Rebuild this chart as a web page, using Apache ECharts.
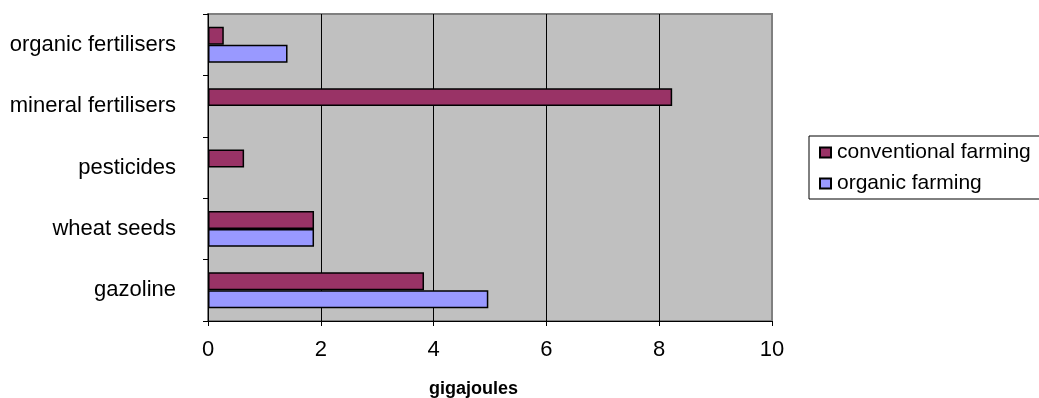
<!DOCTYPE html>
<html>
<head>
<meta charset="utf-8">
<script src="https://cdn.jsdelivr.net/npm/echarts@6/dist/echarts.min.js"></script>
<style>
html,body{margin:0;padding:0;background:#fff;}
#chart{width:1039px;height:398px;}
</style>
</head>
<body>
<div id="chart"></div>
<script>
// categories listed top to bottom
var categories = ['organic fertilisers', 'mineral fertilisers', 'pesticides', 'wheat seeds', 'gazoline'];
var conventionalFarming = [0.28, 8.23, 0.64, 1.88, 3.83];
var organicFarming = [1.41, null, null, 1.88, 4.97];
var seriesNames = ['conventional farming', 'organic farming'];
var xTicks = { min: 0, max: 10, interval: 2 };

var font = 'Liberation Sans, Arial, sans-serif';
var chart = echarts.init(document.getElementById('chart'), null, { renderer: 'canvas' });
chart.setOption({
  animation: false,
  textStyle: { fontFamily: font, color: '#000' },
  grid: {
    left: 208, right: 267, top: 14, bottom: 77,
    outerBoundsMode: 'none', containLabel: false,
    show: true, backgroundColor: '#c0c0c0', borderColor: '#808080', borderWidth: 2
  },
  legend: {
    orient: 'vertical',
    left: 809, top: 136,
    data: seriesNames,
    icon: 'rect',
    itemWidth: 11, itemHeight: 10, itemGap: 10,
    padding: [6, 40, 5, 10],
    borderColor: '#000', borderWidth: 1,
    textStyle: { fontFamily: font, fontSize: 21, lineHeight: 21, color: '#000', padding: [0, 0, 0, 1] }
  },
  xAxis: {
    type: 'value',
    min: xTicks.min, max: xTicks.max, interval: xTicks.interval,
    name: 'gigajoules', nameLocation: 'middle', nameGap: 59,
    nameTextStyle: { fontFamily: font, fontSize: 18, fontWeight: 'bold', color: '#000', padding: [0, 33, 0, 0] },
    axisLine: { show: true, lineStyle: { color: '#000', width: 1 } },
    axisTick: { show: true, length: 5, lineStyle: { color: '#000' } },
    axisLabel: { fontFamily: font, fontSize: 22, color: '#000', margin: 18 },
    splitLine: { show: true, showMinLine: false, showMaxLine: false, lineStyle: { color: '#000', width: 1 } }
  },
  yAxis: {
    type: 'category',
    data: categories,
    inverse: true,
    axisLine: { show: true, lineStyle: { color: '#000', width: 1 } },
    axisTick: { show: true, length: 5, lineStyle: { color: '#000' } },
    axisLabel: { fontFamily: font, fontSize: 22, color: '#000', margin: 32 },
    splitLine: { show: false }
  },
  series: [
    {
      name: seriesNames[0], type: 'bar', data: conventionalFarming,
      barGap: '0%', barCategoryGap: '41.6%',
      itemStyle: { color: '#993366', borderColor: '#000', borderWidth: 1.5 }
    },
    {
      name: seriesNames[1], type: 'bar', data: organicFarming,
      barGap: '0%', barCategoryGap: '41.6%',
      itemStyle: { color: '#9999ff', borderColor: '#000', borderWidth: 1.5 }
    }
  ]
});
</script>
</body>
</html>
